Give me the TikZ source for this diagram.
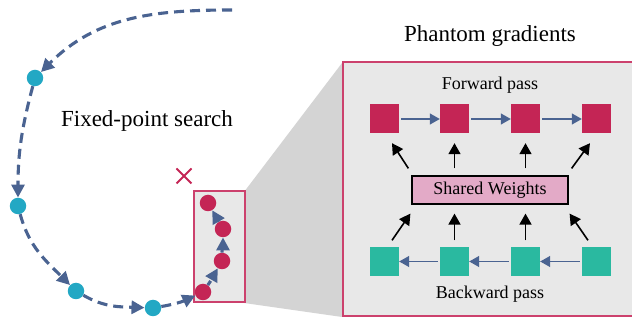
\documentclass[tikz,border=0pt]{standalone}
\usepackage{fontspec}
\setmainfont{Liberation Serif}
\usetikzlibrary{arrows.meta,shapes.misc,calc}
\definecolor{crim}{HTML}{C42555}
\definecolor{pborder}{HTML}{CC416D}
\definecolor{tealsq}{HTML}{2AB9A0}
\definecolor{tealdot}{HTML}{23A8C4}
\definecolor{bluearr}{HTML}{4A6391}
\definecolor{panel}{HTML}{E8E8E8}
\definecolor{zoomgrey}{HTML}{D4D4D4}
\definecolor{swfill}{HTML}{E3AAC7}
\tikzset{
  dot/.style={circle, inner sep=0pt, minimum size=16.5pt},
  tdot/.style={dot, fill=tealdot},
  rdot/.style={dot, fill=crim},
  dpath/.style={draw=bluearr, line width=3.1pt, dash pattern=on 10pt off 6pt,
    -{Triangle[length=13pt,width=13pt]}},
  fsq/.style={fill=crim, minimum size=29pt, inner sep=0pt},
  bsq/.style={fill=tealsq, minimum size=29pt, inner sep=0pt},
  harr/.style={draw=bluearr, line width=1.3pt, -{Triangle[length=10pt,width=11pt]}},
  varr/.style={draw=black, line width=1.6pt, -{Triangle[length=11pt,width=12pt]}},
  bigtxt/.style={font=\fontsize{23}{27}\selectfont, anchor=base, inner sep=0pt},
  smtxt/.style={font=\fontsize{18}{22}\selectfont, anchor=base, inner sep=0pt},
}
\begin{document}
\begin{tikzpicture}[x=1pt,y=1pt]
\useasboundingbox (0,0) rectangle (632,321);
% zoom connector
\fill[zoomgrey] (244,129) -- (342,258) -- (342,4) -- (244,18) -- cycle;
% big panel
\node (panelbox) [draw=pborder, line width=2pt, fill=panel, anchor=south west,
  minimum width=300pt, minimum height=254pt, inner sep=0pt] at (342,4) {};
% small box
\node (smallbox) [draw=pborder, line width=1.8pt, fill=panel, anchor=south west,
  minimum width=51pt, minimum height=111pt, inner sep=0pt] at (193,18) {};
% cross
\node (cross) [cross out, draw=crim, line width=2pt, minimum size=13pt, inner sep=0pt] at (184,145) {};
% texts
\node (fps) [bigtxt] at (147,194) {Fixed-point search};
\node (pg) [bigtxt] at (490,279) {Phantom gradients};
\node (fp) [smtxt] at (490,231) {Forward pass};
\node (bp) [smtxt] at (490,22) {Backward pass};
% dots
\coordinate (s) at (232,311);
\node (t1) [tdot] at (35,243) {};
\node (t2) [tdot] at (18,115) {};
\node (t3) [tdot] at (76,30) {};
\node (t4) [tdot] at (153,13) {};
\node (r1) [rdot] at (203,29) {};
\node (r2) [rdot] at (222,60) {};
\node (r3) [rdot] at (223,92) {};
\node (r4) [rdot] at (208,118) {};
\draw[dpath] (s) to[out=180,in=45] (t1);
\draw[dpath] (t1) to[out=255,in=90] (t2);
\draw[dpath] (t2) to[out=-75,in=135] (t3);
\draw[dpath] (t3) to[out=-30,in=178] (t4);
\draw[dpath] (t4) to[out=10,in=205] (r1);
\draw[dpath, dash pattern=on 5pt off 4pt] (r1) to[out=55,in=240] (r2);
\draw[dpath, dash pattern=on 5pt off 4pt] (r2) to[out=90,in=270] (r3);
\draw[dpath, dash pattern=on 5pt off 4pt] (r3) to[out=120,in=300] (r4);
% shared weights
\node (sw) [draw=black, line width=1.2pt, fill=swfill, minimum width=156pt, minimum height=28pt,
  inner sep=0pt, font=\fontsize{18}{22}\selectfont] at (490,131) {Shared Weights};
% forward squares
\node (f1) [fsq] at (384.5,202) {};
\node (f2) [fsq] at (454.5,202) {};
\node (f3) [fsq] at (525.5,202) {};
\node (f4) [fsq] at (596.5,202) {};
\node (b1) [bsq] at (384.5,59.5) {};
\node (b2) [bsq] at (454.5,59.5) {};
\node (b3) [bsq] at (525.5,59.5) {};
\node (b4) [bsq] at (596.5,59.5) {};
\draw[harr, shorten <=2pt] (f1) -- (f2);
\draw[harr, shorten <=2pt] (f2) -- (f3);
\draw[harr, shorten <=2pt] (f3) -- (f4);
\draw[harr, shorten <=2pt] (b2) -- (b1);
\draw[harr, shorten <=2pt] (b3) -- (b2);
\draw[harr, shorten <=2pt] (b4) -- (b3);
% weight arrows up to forward
\draw[varr] ([xshift=-3pt,yshift=7pt]sw.north west) -- ([xshift=7.5pt,yshift=-9.5pt]f1.south);
\draw[varr] ([yshift=7pt]sw.north -| f2) -- ([yshift=-9.5pt]f2.south);
\draw[varr] ([yshift=7pt]sw.north -| f3) -- ([yshift=-9.5pt]f3.south);
\draw[varr] ([xshift=3pt,yshift=7pt]sw.north east) -- ([xshift=-6.5pt,yshift=-9.5pt]f4.south);
% backward arrows up to weights
\draw[varr] ([xshift=7.5pt,yshift=6.5pt]b1.north) -- ([xshift=-1pt,yshift=-9pt]sw.south west);
\draw[varr] ([yshift=6.5pt]b2.north) -- ([yshift=-9pt]sw.south -| b2);
\draw[varr] ([yshift=6.5pt]b3.north) -- ([yshift=-9pt]sw.south -| b3);
\draw[varr] ([xshift=-8.5pt,yshift=6.5pt]b4.north) -- ([xshift=1pt,yshift=-9pt]sw.south east);
\end{tikzpicture}
\end{document}
